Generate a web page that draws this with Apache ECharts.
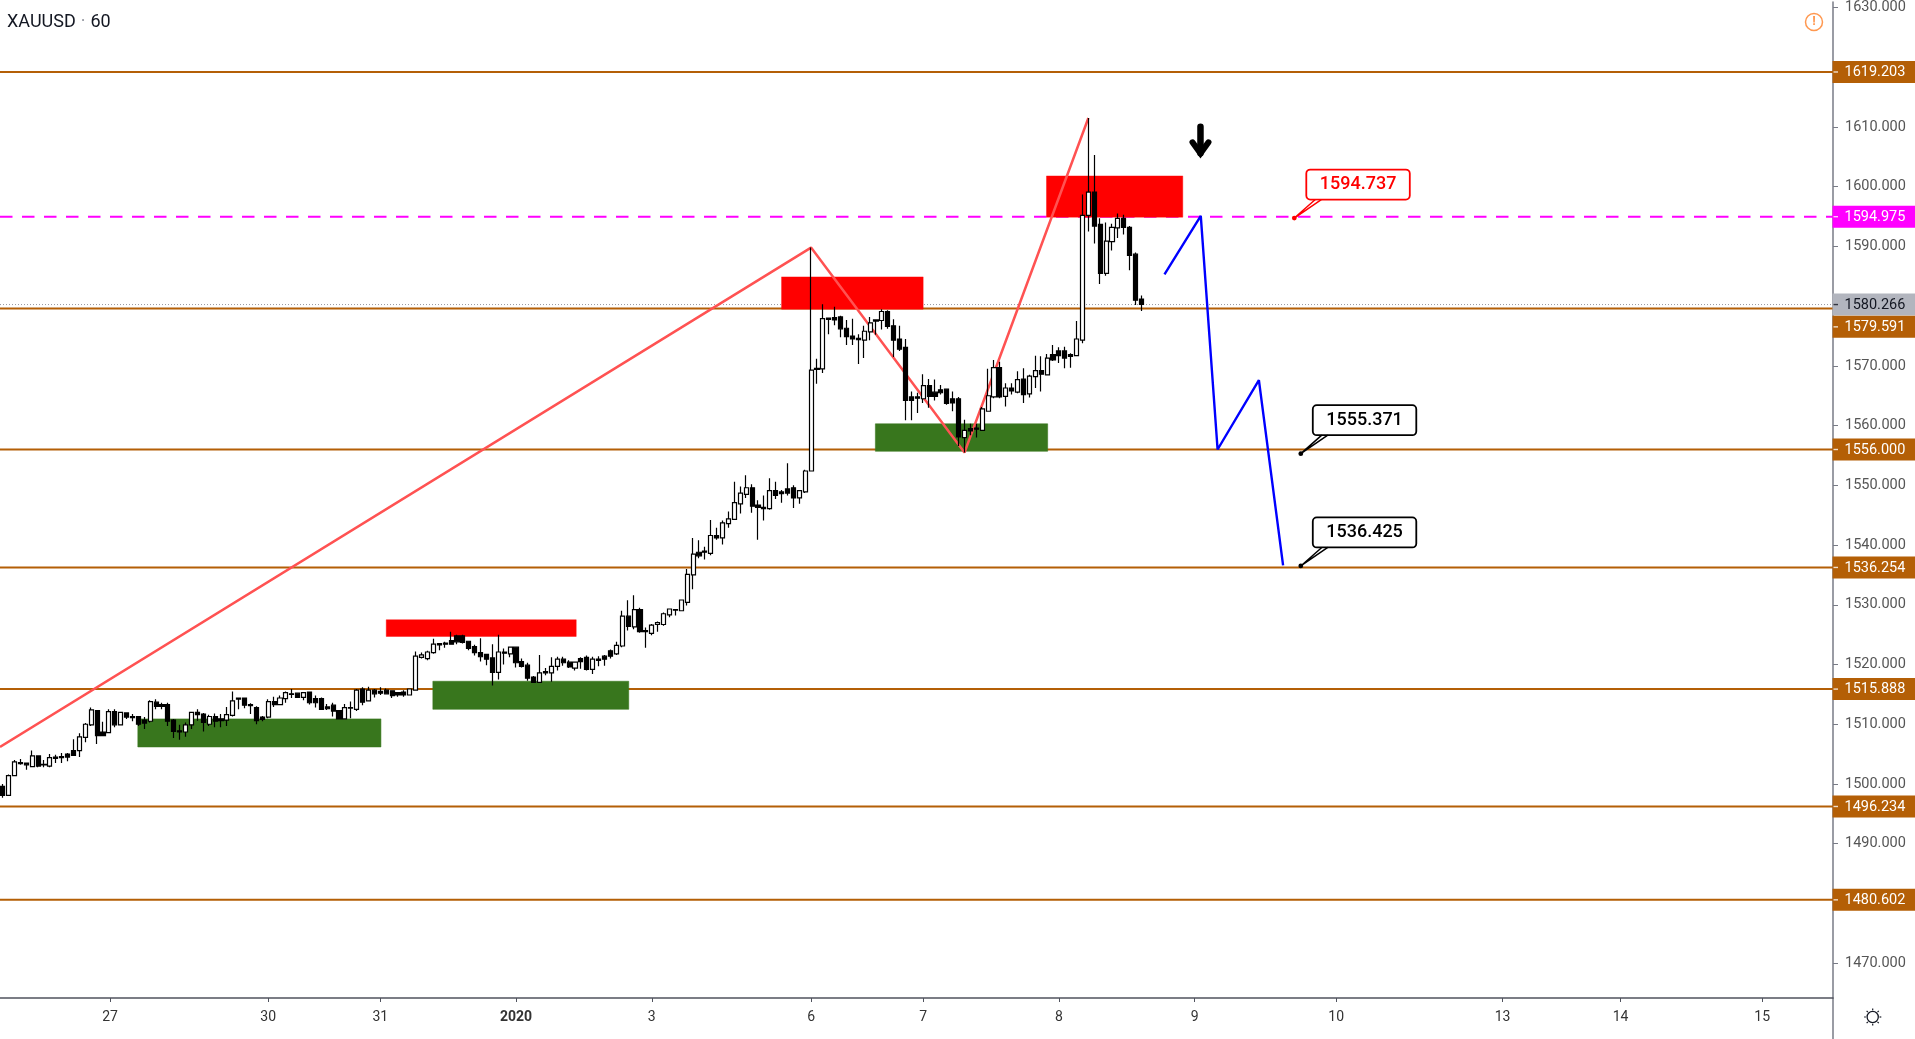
<!DOCTYPE html>
<html>
<head>
<meta charset="utf-8">
<title>XAUUSD 60</title>
<script src="https://cdn.jsdelivr.net/npm/echarts@6/dist/echarts.min.js"></script>
<style>html,body{margin:0;padding:0;background:#fff}#c{width:1915px;height:1039px}</style>
</head>
<body>
<div id="c"></div>
<script>
// [open, close, low, high] per hourly bar
const ohlc = [
[1499.6,1498.1,1497.7,1500.0],[1498.1,1501.4,1498.0,1501.6],[1501.4,1503.7,1501.3,1504.0],[1503.6,1503.4,1503.2,1504.2],
[1503.5,1503.2,1502.4,1503.5],[1502.9,1504.7,1502.8,1505.6],[1504.7,1503.0,1502.8,1504.8],[1503.3,1503.2,1502.8,1504.0],
[1503.0,1504.4,1502.8,1505.0],[1504.3,1504.5,1503.5,1504.9],[1504.4,1504.6,1503.5,1505.2],[1505.0,1504.5,1503.8,1505.2],
[1505.6,1504.8,1504.7,1507.5],[1505.6,1507.9,1504.5,1508.5],[1507.8,1510.0,1507.0,1510.2],[1509.9,1512.4,1509.7,1512.8],
[1512.3,1508.1,1506.7,1512.4],[1508.7,1508.1,1508.0,1510.4],[1508.6,1512.1,1508.5,1512.5],[1512.1,1509.9,1509.5,1512.5],
[1509.9,1512.0,1509.8,1512.1],[1511.9,1511.2,1510.9,1512.0],[1511.3,1511.1,1510.5,1511.7],[1511.3,1510.0,1509.7,1511.4],
[1510.7,1510.2,1509.2,1511.2],[1510.5,1513.8,1510.3,1514.0],[1513.7,1513.0,1512.5,1514.2],[1513.3,1513.0,1512.5,1513.6],
[1513.3,1510.5,1509.7,1513.6],[1510.7,1508.8,1507.7,1510.9],[1508.9,1508.7,1507.4,1509.9],[1508.7,1509.9,1507.9,1510.3],
[1509.9,1512.0,1509.2,1512.1],[1512.0,1511.6,1510.6,1512.5],[1511.7,1510.3,1508.8,1511.9],[1510.0,1511.3,1509.7,1511.6],
[1511.3,1510.5,1509.5,1511.8],[1510.9,1510.6,1509.5,1511.7],[1510.7,1511.6,1509.7,1512.9],[1511.5,1513.9,1511.3,1515.5],
[1514.2,1514.4,1512.5,1514.5],[1514.4,1513.2,1512.7,1514.5],[1513.3,1513.1,1511.7,1513.5],[1512.8,1510.6,1510.0,1513.0],
[1511.2,1510.8,1510.5,1511.4],[1511.2,1513.8,1511.0,1514.2],[1513.8,1513.3,1512.9,1514.6],[1513.3,1514.4,1513.2,1514.8],
[1514.3,1515.3,1513.6,1515.5],[1515.1,1515.0,1514.4,1515.9],[1515.2,1514.5,1514.4,1515.2],[1514.5,1515.3,1514.0,1515.4],
[1515.4,1513.6,1513.3,1515.5],[1514.3,1513.6,1512.8,1514.8],[1514.3,1512.5,1512.4,1514.5],[1512.9,1512.6,1512.4,1513.4],
[1513.2,1512.2,1511.3,1513.6],[1512.3,1510.9,1510.8,1512.4],[1510.9,1512.8,1510.8,1513.4],[1512.7,1512.8,1511.0,1513.8],
[1512.5,1515.7,1512.2,1515.9],[1515.9,1513.7,1513.2,1516.2],[1513.9,1515.7,1513.8,1516.3],[1515.7,1515.1,1514.5,1515.9],
[1515.5,1515.2,1514.9,1516.2],[1515.7,1515.1,1515.0,1516.0],[1515.6,1514.8,1514.4,1515.7],[1515.3,1514.9,1514.6,1515.4],
[1515.4,1514.9,1514.6,1515.7],[1514.9,1515.9,1514.8,1516.0],[1515.7,1521.4,1515.7,1522.2],[1521.2,1521.6,1521.0,1522.0],
[1521.0,1522.1,1520.7,1522.3],[1522.0,1523.4,1521.8,1524.3],[1523.3,1523.5,1522.4,1523.6],[1523.6,1523.4,1522.8,1523.8],
[1524.0,1523.4,1523.3,1525.5],[1524.8,1523.8,1523.4,1525.0],[1524.8,1523.7,1523.5,1525.0],[1523.9,1522.7,1522.4,1524.0],
[1523.0,1522.0,1521.5,1523.3],[1522.0,1521.3,1520.5,1524.4],[1521.7,1520.9,1519.9,1521.8],[1521.1,1518.7,1516.5,1523.4],
[1518.7,1522.1,1517.5,1525.0],[1522.1,1521.9,1520.0,1522.7],[1521.8,1522.9,1521.2,1523.0],[1522.9,1520.3,1519.5,1523.0],
[1520.5,1519.7,1519.5,1521.0],[1519.9,1517.7,1517.3,1520.3],[1517.9,1517.0,1516.9,1518.1],[1517.0,1518.6,1516.9,1521.6],
[1518.8,1518.6,1518.2,1519.4],[1518.6,1519.7,1517.1,1521.2],[1519.7,1520.9,1519.0,1521.3],[1520.9,1520.3,1519.8,1521.3],
[1520.4,1519.6,1519.4,1520.7],[1519.4,1520.4,1519.0,1520.5],[1521.0,1520.5,1519.3,1521.2],[1521.2,1519.2,1519.0,1521.5],
[1519.2,1520.9,1518.4,1521.3],[1520.9,1520.7,1519.7,1521.4],[1521.4,1520.9,1519.8,1521.6],[1522.3,1521.4,1521.0,1522.5],
[1521.8,1523.2,1521.6,1523.8],[1523.1,1528.1,1522.9,1529.0],[1528.1,1526.4,1525.7,1530.75],[1526.3,1529.2,1525.9,1531.6],
[1529.2,1525.5,1525.3,1529.5],[1525.7,1525.5,1522.8,1526.2],[1525.2,1526.6,1524.9,1526.8],[1526.7,1527.0,1525.5,1527.2],
[1526.7,1528.5,1526.5,1528.7],[1528.3,1529.3,1527.9,1529.4],[1529.1,1529.2,1528.2,1529.3],[1529.0,1530.8,1528.9,1530.9],
[1530.4,1535.1,1529.9,1536.0],[1535.0,1538.5,1532.6,1541.2],[1538.8,1538.2,1537.8,1540.8],[1539.0,1538.8,1537.6,1539.7],
[1538.6,1541.6,1538.3,1544.2],[1541.6,1541.2,1540.9,1542.9],[1541.2,1543.7,1540.1,1544.1],[1543.6,1544.4,1542.9,1545.6],
[1544.3,1547.1,1544.2,1550.6],[1546.9,1548.7,1545.3,1549.8],[1548.5,1549.6,1547.9,1551.7],[1549.6,1546.5,1545.4,1550.2],
[1546.7,1546.3,1540.9,1547.5],[1546.3,1546.1,1544.1,1548.3],[1546.1,1549.1,1545.9,1551.2],[1549.1,1548.3,1547.7,1550.6],
[1548.9,1548.6,1547.1,1549.2],[1549.4,1548.7,1548.3,1553.7],[1549.6,1547.9,1546.2,1550.0],[1547.9,1549.1,1546.9,1549.2],
[1548.9,1552.4,1548.7,1552.6],[1552.4,1569.3,1552.3,1589.8],[1569.6,1569.4,1567.0,1571.2],[1569.5,1577.9,1568.8,1580.3],
[1578.0,1577.8,1575.3,1578.1],[1578.1,1577.7,1576.8,1579.9],[1578.2,1576.2,1574.8,1578.4],[1576.3,1574.9,1573.5,1577.7],
[1575.0,1574.5,1573.5,1577.9],[1574.6,1574.4,1570.3,1575.3],[1574.3,1575.8,1571.3,1576.7],[1575.7,1577.2,1574.3,1578.2],
[1577.7,1577.5,1575.2,1577.8],[1577.6,1579.1,1576.1,1579.5],[1579.1,1576.6,1576.2,1579.3],[1576.7,1574.3,1571.5,1577.8],
[1574.5,1572.8,1572.5,1576.7],[1573.1,1564.2,1560.9,1574.5],[1564.8,1564.2,1560.9,1565.7],[1564.8,1564.6,1562.1,1565.5],
[1564.5,1566.7,1563.8,1568.6],[1566.7,1564.9,1563.0,1567.8],[1565.6,1564.9,1564.2,1567.7],[1566.0,1565.5,1565.2,1566.8],
[1566.1,1563.7,1563.5,1566.2],[1564.5,1563.8,1562.4,1565.7],[1564.5,1558.1,1556.6,1564.8],[1558.0,1559.2,1555.5,1561.0],
[1559.5,1559.1,1558.4,1560.3],[1559.6,1559.4,1558.0,1560.3],[1559.2,1562.8,1559.1,1563.1],[1562.4,1565.0,1562.3,1569.5],
[1564.8,1569.7,1564.6,1571.0],[1569.7,1564.8,1564.6,1570.7],[1564.9,1566.3,1563.2,1567.1],[1566.3,1565.8,1565.2,1567.1],
[1565.6,1567.7,1565.4,1569.1],[1567.8,1565.2,1563.8,1569.6],[1565.3,1568.3,1564.7,1568.5],[1568.2,1569.2,1566.3,1571.7],
[1569.2,1568.6,1565.7,1571.6],[1568.5,1571.3,1568.4,1572.0],[1571.9,1571.0,1570.8,1573.5],[1572.5,1571.7,1570.5,1573.1],
[1572.5,1571.3,1569.6,1573.2],[1571.9,1571.6,1569.7,1572.1],[1571.7,1574.5,1571.6,1577.5],[1574.3,1595.2,1573.8,1598.7],
[1595.2,1599.1,1592.5,1611.5],[1599.1,1593.4,1590.5,1605.3],[1593.7,1585.5,1583.7,1594.7],[1585.5,1590.9,1585.1,1594.0],
[1590.8,1593.2,1589.3,1593.8],[1593.1,1594.7,1591.4,1595.5],[1594.7,1593.2,1592.0,1595.3],[1593.2,1588.5,1586.0,1593.4],
[1588.7,1581.0,1580.2,1589.0],[1581.2,1580.3,1579.2,1581.8]
];

const xTicks = [18.2,45,64,87,110,137,156,179,202,226,254.2,274.2,298.2];
const xLabels = ['27','30','31','2020','3','6','7','8','9','10','13','14','15'];
const yTicks = [1470,1490,1500,1510,1520,1530,1540,1550,1560,1570,1590,1600,1610,1630];

const levels = [1619.203,1579.591,1556.000,1536.254,1515.888,1496.234,1480.602];
const resistance = 1594.975;
const lastPrice = 1580.266;
const tagValues = [1619.203,1594.975,1580.266,1579.591,1556.000,1536.254,1515.888,1496.234,1480.602];

const zoneStart = [132.0,176.9,65.0,22.9,72.9,147.9];
const zoneEnd   = [156.0,200.0,97.2,64.1,106.1,177.1];
const zoneTop   = [1584.9,1601.8,1527.5,1510.9,1517.2,1560.3];
const zoneBot   = [1579.5,1594.9,1524.7,1506.2,1512.5,1555.7];
const zoneSide  = ['sell','sell','sell','buy','buy','buy'];

const swingX = [-0.46,137,163,184];
const swingY = [1506.2,1589.8,1555.5,1611.5];
const pathX = [196.9,203.05,205.9,212.9,217.0];
const pathY = [1585.3,1595.1,1556.0,1567.6,1536.6];

const noteX = [218.9,220,220];
const noteY = [1594.75,1555.3,1536.5];
const noteText = ['1594.737','1555.371','1536.425'];
const arrowX = [203];
const arrowY = [1607.6];

const X_MIN = -0.46, X_MAX = 310.2, Y_MIN = 1464.17, Y_MAX = 1630.91;
const FONT = 'Roboto, "Liberation Sans", sans-serif';
const BROWN = '#b45f06', PINK = '#ff00ff', GREY = '#b2b5be';

const hLine = (v, color, width, type, z) => ({
  type:'line', data:[[X_MIN,v],[X_MAX,v]], showSymbol:false, silent:true, animation:false, z,
  lineStyle:{color, width, type}
});
const zip = (a,b) => a.map((v,i)=>[v,b[i]]);

const sun = [];
for (let i=0;i<8;i++){
  const a = i*Math.PI/4, c=Math.cos(a), s=Math.sin(a);
  sun.push({type:'line',shape:{x1:1872.7+c*6.8,y1:1017+s*6.8,x2:1872.7+c*8.6,y2:1017+s*8.6},style:{stroke:'#131722',lineWidth:1.2},z:20,silent:true});
}

let prevTagY = -100;
const option = {
  animation:false,
  backgroundColor:'#ffffff',
  title:{
    text:'{a|XAUUSD} {b|·} {a|60}', left:7, top:13, padding:0,
    textStyle:{fontWeight:'normal',rich:{
      a:{fontFamily:FONT,fontSize:18,fontWeight:'normal',color:'#131722'},
      b:{fontFamily:FONT,fontSize:18,fontWeight:'normal',color:'#9598a1'}
    }}
  },
  grid:{left:0,top:0,width:1833,height:998,containLabel:false},
  xAxis:{
    type:'value', min:X_MIN, max:X_MAX, splitLine:{show:false},
    axisLine:{show:true,onZero:false,lineStyle:{color:'#50535e',width:1.5}},
    axisTick:{show:true,length:4,lineStyle:{color:'#50535e'},customValues:xTicks},
    axisLabel:{
      customValues:xTicks, margin:12, color:'#333', fontFamily:FONT, fontSize:14,
      formatter:v=>{const l=xLabels[xTicks.indexOf(v)]; return l==='2020'?'{y|2020}':l;},
      rich:{y:{fontFamily:FONT,fontSize:14,fontWeight:'bold',color:'#333'}}
    }
  },
  yAxis:{
    type:'value', position:'right', min:Y_MIN, max:Y_MAX, splitLine:{show:false},
    axisLine:{show:true,onZero:false,lineStyle:{color:'#787b86',width:1.5}},
    axisTick:{show:true,length:5,lineStyle:{color:'#787b86'},customValues:yTicks},
    axisLabel:{customValues:yTicks, margin:12, color:'#555', fontFamily:FONT, fontSize:14.5,
      padding:[2,0,0,0], formatter:v=>v.toFixed(3)}
  },
  graphic:[
    {type:'line',shape:{x1:1833,y1:998,x2:1833,y2:1039},style:{stroke:'#787b86',lineWidth:1.5},silent:true},
    {type:'circle',shape:{cx:1814,cy:22,r:8.5},style:{fill:'#fff',stroke:'#ff9850',lineWidth:1.5},z:20,silent:true},
    {type:'text',style:{text:'!',x:1814,y:22,fill:'#ff9850',font:'bold 13px '+FONT,textAlign:'center',textVerticalAlign:'middle'},z:21,silent:true},
    {type:'circle',shape:{cx:1872.7,cy:1017,r:5.6},style:{fill:'#fff',stroke:'#131722',lineWidth:1.3},z:20,silent:true},
    ...sun
  ],
  series:[
    ...levels.map(v=>hLine(v,BROWN,2,'solid',1)),
    hLine(resistance,PINK,2,[12.5,9.5],1),
    hLine(lastPrice,'#9598a1',1,[1,2],1),
    {
      type:'custom', z:2, silent:true, animation:false,
      encode:{x:[0,1],y:[2,3]},
      data:zoneStart.map((s,i)=>[s,zoneEnd[i],zoneTop[i],zoneBot[i]]),
      renderItem:(p,api)=>{
        const a=api.coord([api.value(0),api.value(2)]), b=api.coord([api.value(1),api.value(3)]);
        const sell=zoneSide[p.dataIndex]==='sell';
        return {type:'rect',shape:{x:a[0],y:a[1],width:b[0]-a[0],height:b[1]-a[1]},
          style:{fill:sell?'#ff0000':'#38761d',stroke:sell?'rgba(255,0,0,0.4)':'rgba(56,118,29,0.55)',lineWidth:1}};
      }
    },
    {type:'line',data:zip(swingX,swingY),showSymbol:false,silent:true,animation:false,z:3,
      lineStyle:{color:'#ff5252',width:2.5}},
    {type:'line',data:zip(pathX,pathY),showSymbol:false,silent:true,animation:false,z:3,
      lineStyle:{color:'#0000ff',width:2.4}},
    {
      type:'candlestick', z:4, silent:true, animation:false, barWidth:4.6,
      encode:{x:0,y:[1,2,3,4]},
      data:ohlc.map((r,i)=>[i,r[0],r[1],r[2],r[3]]),
      itemStyle:{color:'#ffffff',color0:'#000000',borderColor:'#000000',borderColor0:'#000000',borderWidth:1.2}
    },
    {
      type:'custom', z:6, silent:true, animation:false, clip:false,
      encode:{x:0,y:1},
      data:noteX.map((x,i)=>[x,noteY[i]]),
      renderItem:(p,api)=>{
        const c=api.coord([api.value(0),api.value(1)]);
        const red=p.dataIndex===0, col=red?'#ff0000':'#000000';
        const L=c[0]+12, T=c[1]-48.5, W=103.5, H=30, B=T+H;
        return {type:'group',children:[
          {type:'rect',shape:{x:L,y:T,width:W,height:H,r:4},style:{fill:'#fff',stroke:col,lineWidth:1.8}},
          {type:'polygon',shape:{points:[[c[0]+21,B+1.2],[c[0]+27,B+1.2],[c[0],c[1]]]},style:{fill:'#fff'}},
          {type:'polyline',shape:{points:[[c[0]+21,B],c,[c[0]+27,B]]},style:{fill:'none',stroke:col,lineWidth:1.5}},
          {type:'circle',shape:{cx:c[0],cy:c[1],r:2.4},style:{fill:col}},
          {type:'text',style:{text:noteText[p.dataIndex],x:L+W/2,y:T+H/2,fill:col,font:'500 18px '+FONT,textAlign:'center',textVerticalAlign:'middle'}}
        ]};
      }
    },
    {
      type:'custom', z:6, silent:true, animation:false,
      encode:{x:0,y:1},
      data:zip(arrowX,arrowY),
      renderItem:(p,api)=>{
        const c=api.coord([api.value(0),api.value(1)]), x=c[0], y=c[1];
        return {type:'group',children:[
          {type:'line',shape:{x1:x,y1:y-14.5,x2:x,y2:y+12},style:{stroke:'#000',lineWidth:6.5,lineCap:'round'}},
          {type:'polyline',shape:{points:[[x-8,y+1],[x,y+12],[x+8,y+1]]},style:{fill:'none',stroke:'#000',lineWidth:6,lineCap:'round',lineJoin:'miter'}}
        ]};
      }
    },
    {
      type:'custom', z:8, silent:true, animation:false, clip:false,
      encode:{x:0,y:1},
      data:tagValues.map(v=>[0,v]),
      renderItem:(p,api)=>{
        if(p.dataIndex===0) prevTagY=-100;
        const v=api.value(1);
        let y=api.coord([0,v])[1];
        if(y<prevTagY+22.3) y=prevTagY+22.3;
        prevTagY=y;
        const x0=p.coordSys.x+p.coordSys.width-0.5, w=api.getWidth()-x0;
        const grey=v===lastPrice, pink=v===resistance;
        const bg=grey?GREY:pink?PINK:BROWN, fg=grey?'#131722':'#fff';
        return {type:'group',children:[
          {type:'rect',shape:{x:x0,y:y-11,width:w,height:22},style:{fill:bg}},
          {type:'rect',shape:{x:x0+1,y:y-0.7,width:4.5,height:1.4},style:{fill:fg,opacity:0.8}},
          {type:'text',style:{text:v.toFixed(3),x:x0+12,y:y+0.5,fill:fg,font:'14.5px '+FONT,textAlign:'left',textVerticalAlign:'middle'}}
        ]};
      }
    }
  ]
};
const chart = echarts.init(document.getElementById('c'),null,{renderer:'canvas'});
chart.setOption(option);
</script>
</body>
</html>
